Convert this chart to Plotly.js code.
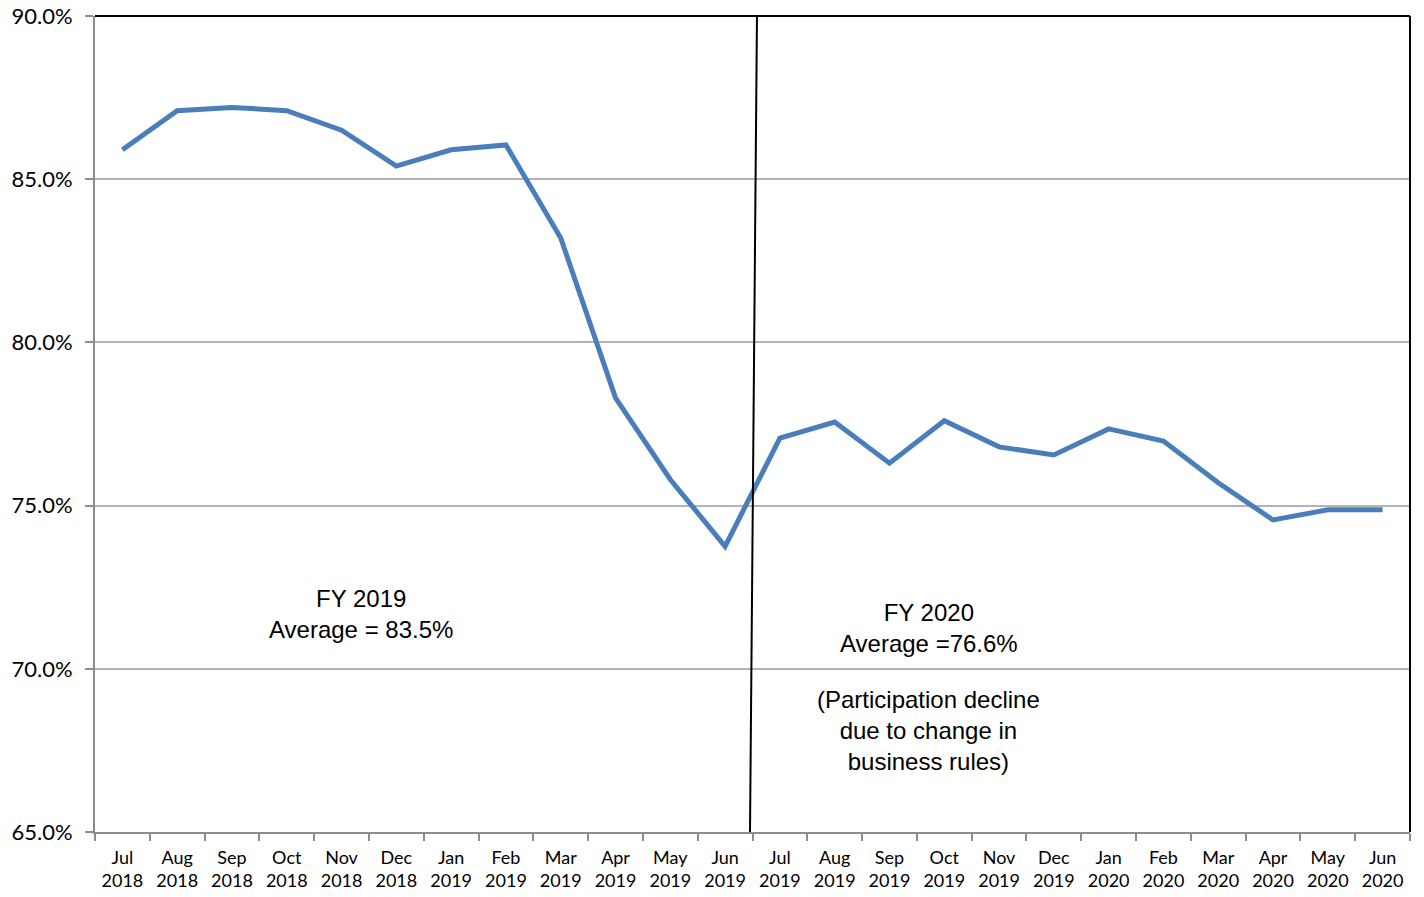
<!DOCTYPE html>
<html>
<head>
<meta charset="utf-8">
<script src="https://cdn.plot.ly/plotly-3.0.1.min.js"></script>
<style>
  body { margin: 0; background: #fff; }
  #chart { width: 1424px; height: 897px; }
</style>
</head>
<body>
<div id="chart"></div>
<script>
// Monthly participation rate, FY 2019 and FY 2020
var months = ['Jul', 'Aug', 'Sep', 'Oct', 'Nov', 'Dec', 'Jan', 'Feb', 'Mar', 'Apr', 'May', 'Jun',
              'Jul', 'Aug', 'Sep', 'Oct', 'Nov', 'Dec', 'Jan', 'Feb', 'Mar', 'Apr', 'May', 'Jun'];
var years = ['2018', '2018', '2018', '2018', '2018', '2018', '2019', '2019', '2019', '2019', '2019', '2019',
             '2019', '2019', '2019', '2019', '2019', '2019', '2020', '2020', '2020', '2020', '2020', '2020'];
var rates = [85.9, 87.1, 87.2, 87.1, 86.5, 85.4, 85.9, 86.05, 83.2, 78.3, 75.8, 73.75,
             77.07, 77.56, 76.3, 77.6, 76.8, 76.55, 77.35, 76.98, 75.7, 74.56, 74.87, 74.87];

var labels = months.map(function (m, i) { return m + '<br>' + years[i]; });

var trace = {
  x: labels,
  y: rates,
  type: 'scatter',
  mode: 'lines',
  line: { color: '#4a7ebb', width: 5 },
  hoverinfo: 'skip'
};

var annoFont = { family: 'Liberation Sans, Arial, sans-serif', size: 24, color: '#000' };

var layout = {
  width: 1424,
  height: 897,
  margin: { l: 95, r: 14, t: 16, b: 65 },
  paper_bgcolor: '#fff',
  plot_bgcolor: '#fff',
  showlegend: false,
  xaxis: {
    type: 'category',
    range: [-0.5, 23.5],
    tickson: 'boundaries',
    ticks: 'outside',
    ticklen: 7,
    tickcolor: '#8c8c8c',
    tickwidth: 2,
    showline: true,
    linecolor: '#8c8c8c',
    linewidth: 2,
    showgrid: false,
    zeroline: false,
    tickangle: 0,
    ticklabelstandoff: 8,
    tickfont: { family: 'Lato, Open Sans, sans-serif', size: 18, color: '#000' }
  },
  yaxis: {
    range: [65, 90],
    dtick: 5,
    tick0: 65,
    ticksuffix: '%',
    tickformat: '.1f',
    ticks: 'outside',
    ticklen: 8,
    tickcolor: '#8c8c8c',
    tickwidth: 2,
    showline: true,
    linecolor: '#8c8c8c',
    linewidth: 2,
    showgrid: true,
    gridcolor: '#b3b3b3',
    gridwidth: 2,
    zeroline: false,
    ticklabelstandoff: 8,
    tickfont: { family: 'Lato, Open Sans, sans-serif', size: 22, color: '#000' }
  },
  shapes: [
    // top and right frame
    { type: 'line', xref: 'paper', yref: 'paper', x0: 0, x1: 1, y0: 1, y1: 1,
      line: { color: '#000', width: 2 } },
    { type: 'line', xref: 'paper', yref: 'paper', x0: 1, x1: 1, y0: 0, y1: 1,
      line: { color: '#000', width: 2 } },
    // FY divider
    { type: 'line', xref: 'paper', yref: 'paper', x0: 0.4981, x1: 0.5034, y0: 0, y1: 1,
      line: { color: '#000', width: 2 } }
  ],
  annotations: [
    { xref: 'paper', yref: 'paper', x: 0.2024, y: 0.267, xanchor: 'center', yanchor: 'middle',
      showarrow: false, text: 'FY 2019<br>Average = 83.5%', align: 'center', font: annoFont },
    { xref: 'paper', yref: 'paper', x: 0.6342, y: 0.2494, xanchor: 'center', yanchor: 'middle',
      showarrow: false, text: 'FY 2020<br>Average =76.6%', align: 'center', font: annoFont },
    { xref: 'paper', yref: 'paper', x: 0.6342, y: 0.125, xanchor: 'center', yanchor: 'middle',
      showarrow: false, text: '(Participation decline<br>due to change in<br>business rules)',
      align: 'center', font: annoFont }
  ]
};

Plotly.newPlot('chart', [trace], layout, { staticPlot: true, displayModeBar: false });
</script>
</body>
</html>
